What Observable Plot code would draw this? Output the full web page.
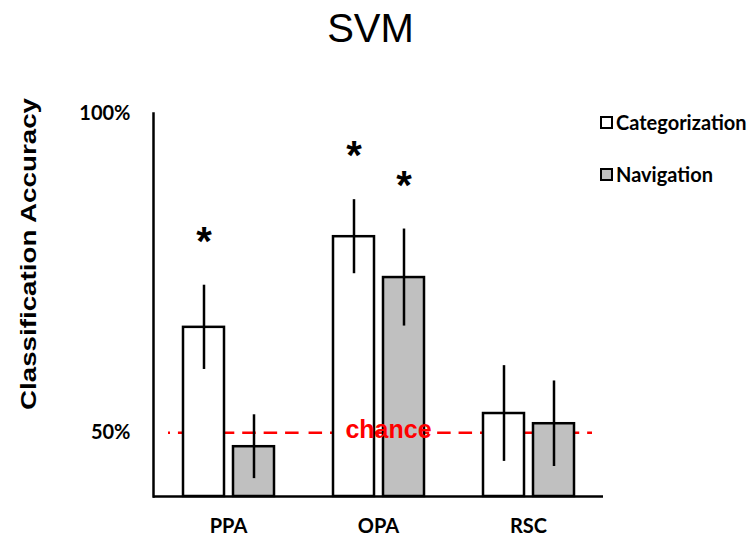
<!DOCTYPE html>
<html>
<head>
<meta charset="utf-8">
<script src="https://cdn.jsdelivr.net/npm/d3@7"></script>
<script src="https://cdn.jsdelivr.net/npm/@observablehq/plot@0.6"></script>
<style>
  body { margin: 0; background: #fff; }
  #wrap { position: relative; width: 751px; height: 536px; overflow: hidden; background: #fff; }
  #chart { position: absolute; left: 0; top: 0; }
  #title { position: absolute; left: 0; top: 4px; width: 741px; text-align: center;
           font: 40px "Liberation Sans", Arial, sans-serif; color: #000; line-height: 48px; }
  #ylabel { position: absolute; left: 0; top: 0; }
  .legend { position: absolute; left: 600px; font: bold 20px Lato, sans-serif; color: #000;
            display: flex; align-items: center; white-space: nowrap; }
  .legend span.sw { display: inline-block; width: 9px; height: 9px; border: 2.5px solid #000; margin-right: 3px; }
</style>
</head>
<body>
<div id="wrap">
  <div id="chart"></div>
  <div id="title">SVM</div>
  <svg id="ylabel" width="60" height="536">
    <text x="0" y="0" transform="translate(36,254) rotate(-90)" text-anchor="middle"
          font-family="Liberation Sans, Arial, sans-serif" font-weight="bold" font-size="22"
          textLength="312" lengthAdjust="spacingAndGlyphs">Classification Accuracy</text>
  </svg>
  <div id="legend"></div>
</div>
<script>
// ---- data ----
const groups = ["PPA", "OPA", "RSC"];
const series = ["Categorization", "Navigation"];
const categorization = [66.5, 80.7, 53.0];
const categorizationErr = [6.6, 5.8, 7.5];
const navigation = [47.8, 74.3, 51.4];
const navigationErr = [5.0, 7.6, 6.7];
const categorizationSig = [true, true, false];
const navigationSig = [false, true, false];
const chance = 50;
const chanceLabel = "chance";
const yDomain = [40, 100];
const yTicks = [50, 100];
const fills = ["#ffffff", "#c0c0c0"];

const rows = groups.flatMap((g, i) => [
  {group: g, series: series[0], value: categorization[i], err: categorizationErr[i], sig: categorizationSig[i]},
  {group: g, series: series[1], value: navigation[i], err: navigationErr[i], sig: navigationSig[i]}
]);

// dashed chance line, drawn per facet so its dashes stay in phase
const dash = {stroke: "#ff0000", strokeWidth: 2.5, strokeDasharray: "13.5,7.93"};
const chanceRows = groups.map(g => ({group: g, y: chance}));
const chanceMarks = [
  Plot.ruleY(chanceRows.slice(0, 1), {fx: "group", y: "y", insetLeft: 15, strokeDashoffset: 11.5, ...dash}),
  Plot.ruleY(chanceRows.slice(1, 2), {fx: "group", y: "y", strokeDashoffset: 15.86, ...dash}),
  Plot.ruleY(chanceRows.slice(2, 3), {fx: "group", y: "y", insetRight: 11, strokeDashoffset: 15.86, ...dash})
];

const plot = Plot.plot({
  width: 751,
  height: 536,
  marginTop: 113,
  marginBottom: 40,
  marginLeft: 153,
  marginRight: 148,
  style: {fontFamily: "Lato, sans-serif", fontWeight: "bold", fontSize: "20px", color: "#000", background: "transparent"},
  fx: {domain: groups, padding: 0, axis: "bottom", tickSize: 0, tickPadding: 22, label: null},
  x: {domain: series, paddingInner: 0.18, paddingOuter: 0.59, axis: null},
  y: {domain: yDomain},
  color: {domain: series, range: fills},
  marks: [
    Plot.axisY({ticks: yTicks, tickFormat: d => d + "%", tickSize: 0, tickPadding: 23, label: null}),
    Plot.frame({anchor: "left", facetAnchor: "left", stroke: "#000", strokeWidth: 2.5}),
    ...chanceMarks,
    Plot.barY(rows, {fx: "group", x: "series", y1: yDomain[0], y2: "value", fill: "series", stroke: "#000", strokeWidth: 2.5}),
    Plot.ruleX(rows, {fx: "group", x: "series", y1: d => d.value - d.err, y2: d => d.value + d.err, stroke: "#000", strokeWidth: 2.5}),
    Plot.text(rows.filter(d => d.sig), {fx: "group", x: "series", y: d => d.value + d.err, text: () => "*",
      dy: -43, fontSize: 40, fontFamily: "Liberation Sans, Arial, sans-serif", fontWeight: "bold", fill: "#000"}),
    Plot.text([chanceLabel], {fx: () => groups[1], y: () => chance, text: d => d, dx: 10, dy: -3,
      fontSize: 25, fontFamily: "Liberation Sans, Arial, sans-serif", fontWeight: "bold", fill: "#ff0000"}),
    Plot.ruleY([yDomain[0]], {stroke: "#000", strokeWidth: 2.5})
  ]
});
document.getElementById("chart").appendChild(plot);

// legend
const legendTops = [110, 162];
const legend = document.getElementById("legend");
series.forEach((s, i) => {
  const d = document.createElement("div");
  d.className = "legend";
  d.style.top = legendTops[i] + "px";
  d.innerHTML = `<span class="sw" style="background:${fills[i]}"></span>${s}`;
  legend.appendChild(d);
});
</script>
</body>
</html>
